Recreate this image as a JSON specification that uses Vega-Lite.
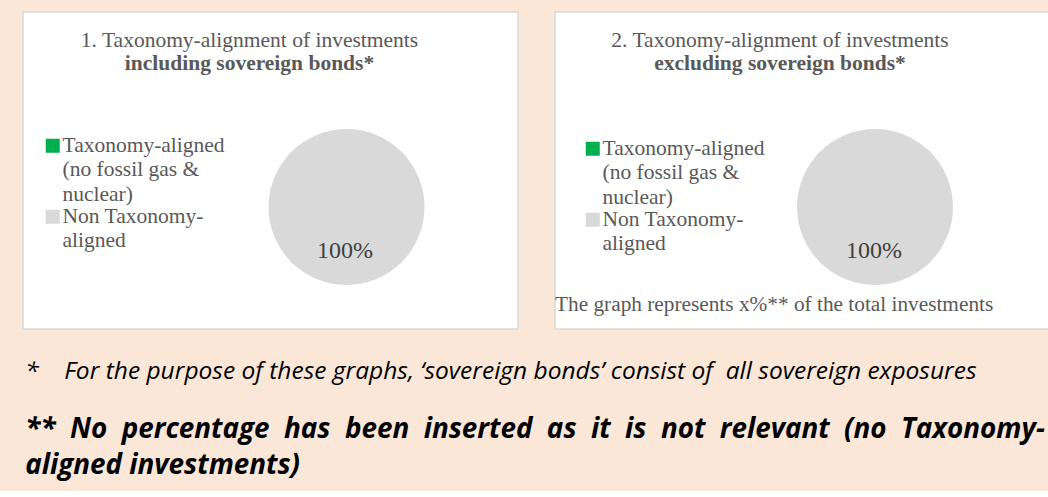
{
  "$schema": "https://vega.github.io/schema/vega-lite/v6.json",
  "background": "#FAE7D7",
  "padding": {"left": 22, "top": 11, "right": 2, "bottom": 10},
  "spacing": 35,
  "config": {
    "view": {"fill": "white", "stroke": "#D9D9D9", "strokeWidth": 1.5},
    "font": "Liberation Serif",
    "style": {"guide-label": {"lineHeight": 24.5, "dy": -11, "font": "Liberation Serif"}}
  },
  "title": {
    "text": "*\u00a0\u00a0\u00a0\u00a0For the purpose of these graphs, \u2018sovereign bonds\u2019 consist of\u00a0 all sovereign exposures",
    "subtitle": ["**\u00a0 No\u00a0 percentage\u00a0 has\u00a0 been\u00a0 inserted\u00a0 as\u00a0 it\u00a0 is\u00a0 not\u00a0 relevant\u00a0 (no\u00a0 Taxonomy-", "aligned investments)"],
    "orient": "bottom",
    "anchor": "start",
    "frame": "bounds",
    "offset": 30,
    "dx": 3,
    "font": "Open Sans",
    "fontSize": 24.5,
    "fontStyle": "italic",
    "fontWeight": "normal",
    "color": "#000000",
    "subtitleFont": "Open Sans",
    "subtitleFontSize": 27.8,
    "subtitleFontStyle": "italic",
    "subtitleFontWeight": "bold",
    "subtitleColor": "#000000",
    "subtitlePadding": 32,
    "subtitleLineHeight": 36
  },
  "resolve": {"legend": {"color": "independent"}, "scale": {"color": "independent", "theta": "independent"}},
  "hconcat": [
    {
      "width": 495,
      "height": 317,
      "view": {"fill": "white", "stroke": "#D9D9D9", "strokeWidth": 1.5},
      "title": {
        "text": "1. Taxonomy-alignment of investments",
        "subtitle": "including sovereign bonds*",
        "anchor": "middle",
        "orient": "top",
        "offset": -62,
        "dx": -21,
        "font": "Liberation Serif",
        "fontSize": 21.5,
        "fontWeight": "normal",
        "color": "#595959",
        "subtitleFont": "Liberation Serif",
        "subtitleFontSize": 21.5,
        "subtitleFontWeight": "bold",
        "subtitleColor": "#595959",
        "subtitlePadding": 1
      },
      "data": {"values": [
        {"category": "Taxonomy-aligned (no fossil gas & nuclear)", "share": 0},
        {"category": "Non Taxonomy-aligned", "share": 1}
      ]},
      "layer": [
        {
          "mark": {"type": "arc", "outerRadius": 78, "x": 323.5, "y": 195},
          "encoding": {
            "theta": {"field": "share", "type": "quantitative", "stack": true},
            "color": {
              "field": "category", "type": "nominal",
              "scale": {"domain": ["Taxonomy-aligned (no fossil gas & nuclear)", "Non Taxonomy-aligned"], "range": ["#00B050", "#D9D9D9"]},
              "legend": {
                "orient": "none", "legendX": 19, "legendY": 123,
                "title": null,
                "labelFont": "Liberation Serif", "labelFontSize": 21.5, "labelColor": "#595959",
                "labelLimit": 400, "labelBaseline": "top", "labelOffset": -1,
                "symbolType": "square", "symbolSize": 196, "symbolStrokeWidth": 0,
                "rowPadding": -18,
                "labelExpr": "datum.label == 'Non Taxonomy-aligned' ? ['Non Taxonomy-', 'aligned'] : ['Taxonomy-aligned', '(no fossil gas &', 'nuclear)']"
              }
            }
          }
        },
        {
          "transform": [{"filter": "datum.share > 0"}],
          "mark": {"type": "text", "radius": 44, "x": 322, "y": 195, "font": "Liberation Serif", "fontSize": 24, "color": "#404040"},
          "encoding": {
            "theta": {"field": "share", "type": "quantitative", "stack": true},
            "text": {"field": "share", "type": "quantitative", "format": ".0%"}
          }
        }
      ]
    },
    {
      "width": 494,
      "height": 317,
      "view": {"fill": "white", "stroke": "#D9D9D9", "strokeWidth": 1.5},
      "title": {
        "text": "2. Taxonomy-alignment of investments",
        "subtitle": "excluding sovereign bonds*",
        "anchor": "middle",
        "orient": "top",
        "offset": -62,
        "dx": -22,
        "font": "Liberation Serif",
        "fontSize": 21.5,
        "fontWeight": "normal",
        "color": "#595959",
        "subtitleFont": "Liberation Serif",
        "subtitleFontSize": 21.5,
        "subtitleFontWeight": "bold",
        "subtitleColor": "#595959",
        "subtitlePadding": 1
      },
      "data": {"values": [
        {"category": "Taxonomy-aligned (no fossil gas & nuclear)", "share": 0},
        {"category": "Non Taxonomy-aligned", "share": 1}
      ]},
      "layer": [
        {
          "mark": {"type": "arc", "outerRadius": 78, "x": 320, "y": 195},
          "encoding": {
            "theta": {"field": "share", "type": "quantitative", "stack": true},
            "color": {
              "field": "category", "type": "nominal",
              "scale": {"domain": ["Taxonomy-aligned (no fossil gas & nuclear)", "Non Taxonomy-aligned"], "range": ["#00B050", "#D9D9D9"]},
              "legend": {
                "orient": "none", "legendX": 0, "legendY": 126,
                "title": "The graph represents x%** of the total investments",
                "titleOrient": "bottom", "titleAnchor": "start", "titlePadding": 39, "titleLimit": 600,
                "titleFont": "Liberation Serif", "titleFontSize": 21.3, "titleFontWeight": "normal", "titleColor": "#595959",
                "symbolOffset": 27,
                "labelFont": "Liberation Serif", "labelFontSize": 21.5, "labelColor": "#595959",
                "labelLimit": 400, "labelBaseline": "top", "labelOffset": -1,
                "symbolType": "square", "symbolSize": 196, "symbolStrokeWidth": 0,
                "rowPadding": -12,
                "labelExpr": "datum.label == 'Non Taxonomy-aligned' ? ['Non Taxonomy-', 'aligned'] : ['Taxonomy-aligned', '(no fossil gas &', 'nuclear)']"
              }
            }
          }
        },
        {
          "transform": [{"filter": "datum.share > 0"}],
          "mark": {"type": "text", "radius": 44, "x": 319, "y": 195, "font": "Liberation Serif", "fontSize": 24, "color": "#404040"},
          "encoding": {
            "theta": {"field": "share", "type": "quantitative", "stack": true},
            "text": {"field": "share", "type": "quantitative", "format": ".0%"}
          }
        }
      ]
    }
  ]
}
